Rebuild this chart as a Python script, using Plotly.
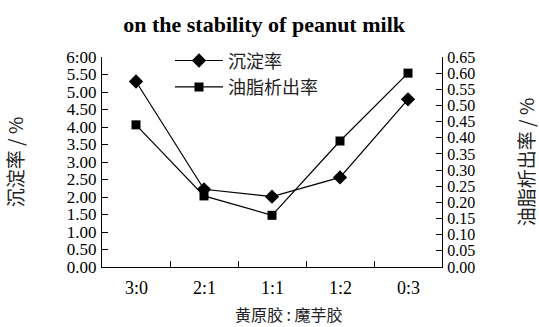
import plotly.graph_objects as go

# Ratio of xanthan gum to konjac gum
ratios = ["3:0", "2:1", "1:1", "1:2", "0:3"]
# Sedimentation rate (%), left axis
sediment = [5.30, 2.22, 2.01, 2.56, 4.79]
# Oil separation rate (%), right axis
oil_sep = [0.44, 0.22, 0.16, 0.39, 0.60]

left_ticks = [0, 0.5, 1, 1.5, 2, 2.5, 3, 3.5, 4, 4.5, 5, 5.5, 6]
left_text = ["0.00", "0.50", "1.00", "1.50", "2.00", "2.50", "3.00", "3.50",
             "4.00", "4.50", "5.00", "5.50", "6:00"]
right_ticks = [0, 0.05, 0.1, 0.15, 0.2, 0.25, 0.3, 0.35, 0.4, 0.45, 0.5, 0.55, 0.6, 0.65]
right_text = ["%.2f" % v for v in right_ticks]

FONT = "Liberation Serif"
CJK = "Noto Sans CJK SC"

fig = go.Figure()
fig.add_trace(go.Scatter(
    x=ratios, y=sediment, name="沉淀率", mode="lines+markers",
    line=dict(color="black", width=1.2),
    marker=dict(symbol="diamond", size=11, color="black"),
    yaxis="y",
))
fig.add_trace(go.Scatter(
    x=ratios, y=oil_sep, name="油脂析出率", mode="lines+markers",
    line=dict(color="black", width=1.2),
    marker=dict(symbol="square", size=9, color="black"),
    yaxis="y2",
))

axis_common = dict(
    showgrid=False, zeroline=False, showline=True, linecolor="black",
    linewidth=1.2, ticks="inside", ticklen=6, tickcolor="black",
    automargin=False,
)

fig.update_layout(
    width=539, height=327,
    margin=dict(l=102, r=97, t=57, b=60),
    paper_bgcolor="white", plot_bgcolor="white",
    font=dict(family=FONT),
    title=dict(
        text="<b>on the stability of peanut milk</b>",
        x=0.49, xanchor="center", y=0.925, yanchor="middle",
        font=dict(family=FONT, size=22, color="black"),
    ),
    xaxis=dict(
        **axis_common,
        type="category", range=[-0.5, 4.5],
        tickmode="array", tickvals=[-0.5, 0.5, 1.5, 2.5, 3.5, 4.5],
        ticktext=["", "", "", "", "", ""],
    ),
    yaxis=dict(
        **axis_common,
        tickfont=dict(family=FONT, size=17, color="black"),
        range=[0, 6], tickmode="array", tickvals=left_ticks, ticktext=left_text,
        ticklabelstandoff=1,
        title=dict(text="沉淀率 / %", font=dict(family=CJK, size=19, color="#222"),
                   standoff=37),
    ),
    yaxis2=dict(
        **axis_common,
        tickfont=dict(family=FONT, size=16, color="black"),
        overlaying="y", side="right",
        range=[0, 0.65], tickmode="array", tickvals=right_ticks, ticktext=right_text,
        ticklabelstandoff=1,
        title=dict(text="油脂析出率 / %", font=dict(family=CJK, size=19, color="#222"),
                   standoff=46),
    ),
    legend=dict(
        x=0.2, y=1.07, xanchor="left", yanchor="top",
        bgcolor="rgba(0,0,0,0)", borderwidth=0,
        font=dict(family=CJK, size=18, color="#222"),
        tracegroupgap=0, itemwidth=48,
    ),
    showlegend=True,
)

# Category labels placed under the category centres
for r in ratios:
    fig.add_annotation(
        x=r, y=0, xref="x", yref="paper", yanchor="top", yshift=-9,
        text=r, showarrow=False,
        font=dict(family=FONT, size=18, color="black"),
    )

# Horizontal axis title
fig.add_annotation(
    x=0.55, y=0, xref="paper", yref="paper", yanchor="top", yshift=-33,
    text="黄原胶 : 魔芋胶", showarrow=False,
    font=dict(family=CJK, size=16, color="#222"),
)

fig.write_html("out.html")
